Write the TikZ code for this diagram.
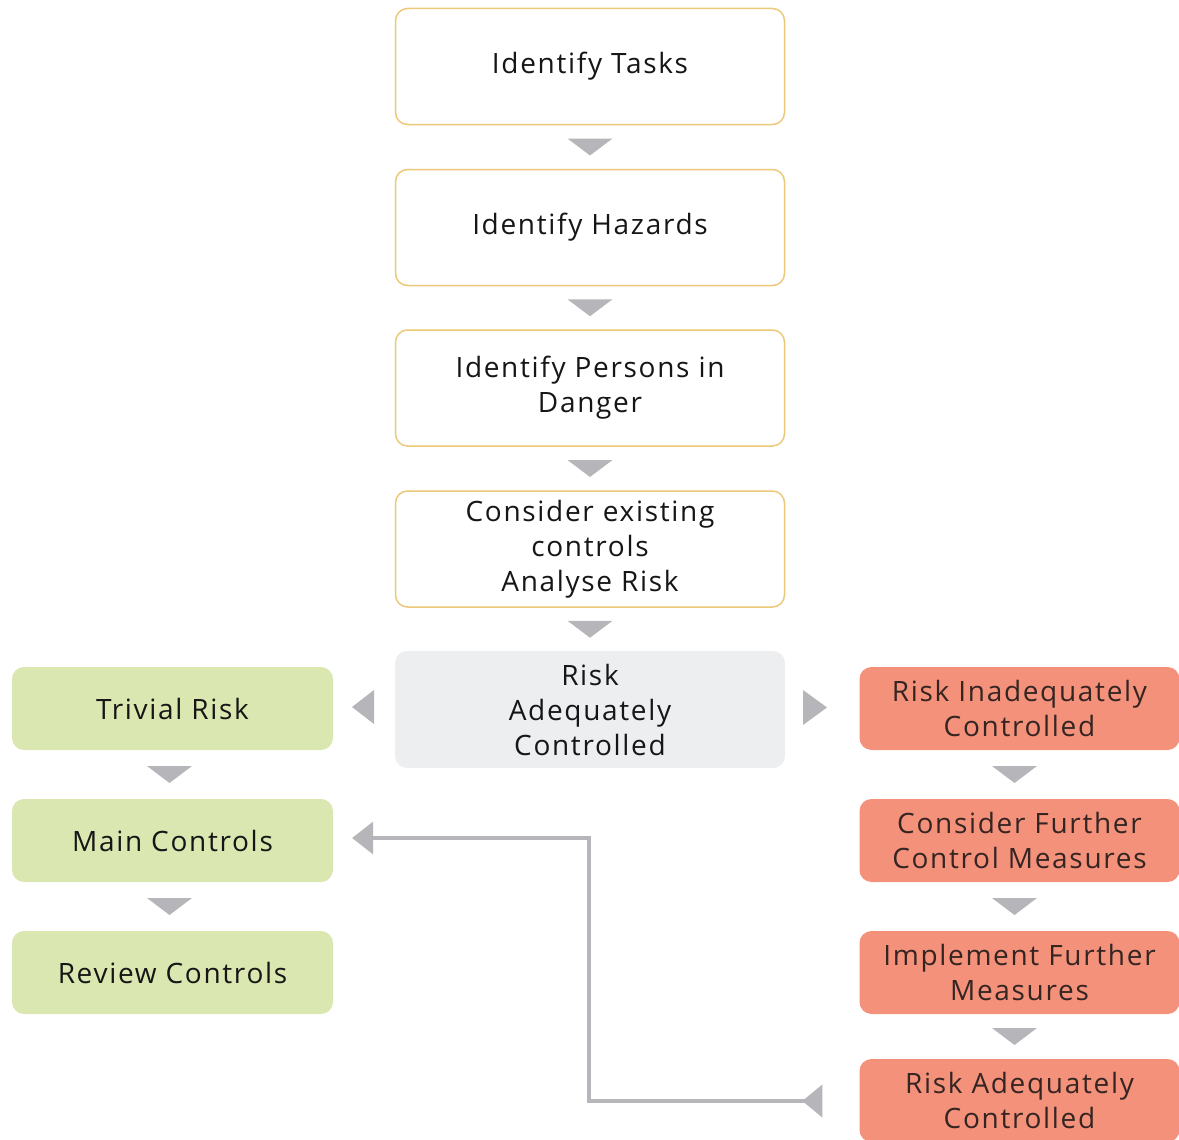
\documentclass[tikz,border=0pt]{standalone}
\usepackage{fontspec}
\setmainfont{Open Sans}[LetterSpace=6]
\usetikzlibrary{calc}
\definecolor{obord}{HTML}{EDC878}
\definecolor{greenf}{HTML}{DAE7B0}
\definecolor{salmonf}{HTML}{F4917B}
\definecolor{greyf}{HTML}{EDEEF0}
\definecolor{trif}{HTML}{B6B6BA}
\definecolor{txt}{HTML}{161616}
\definecolor{stxt}{HTML}{352522}
\newcommand\dtri[3][0]{\fill[trif] ($(#2.south)!0.5!(#3.north)+(#1,0)$) +(-22.5,-8.5) -- +(22.5,-8.5) -- +(0,8.5) -- cycle;}
\begin{document}
\begin{tikzpicture}[x=1pt,y=-1pt,
  box/.style={rounded corners=12pt, align=center, inner sep=0pt,
    font=\fontsize{28}{35}\selectfont, text=txt},
  wbox/.style={box, draw=obord, line width=1.5pt, fill=white,
    minimum width=389pt, minimum height=116pt},
  gbox/.style={box, fill=greyf, minimum width=390pt, minimum height=117pt},
  lbox/.style={box, fill=greenf, minimum width=321pt, minimum height=83pt},
  rbox/.style={box, fill=salmonf, text=stxt, minimum width=320pt, minimum height=83pt},
  conn/.style={draw=trif, line width=3.5pt}]
\useasboundingbox (0,0) rectangle (1179,1140);

\node[wbox] (tasks) at (590,66.5) {Identify Tasks};
\node[wbox] (hazards) at (590,227.5) {Identify Hazards};
\node[wbox] (persons) at (590,388) {Identify Persons in\\Danger};
\node[wbox] (consider) at (590,549) {Consider existing\\controls\\Analyse Risk};
\node[gbox] (adequate) at (590,709.5) {Risk\\Adequately\\Controlled};

\node[lbox] (trivial) at (172.5,708.5) {Trivial Risk};
\node[lbox] (main) at (172.5,840.5) {Main Controls};
\node[lbox] (review) at (172.5,972.5) {Review Controls};

\node[rbox] (inadequate) at (1019.5,708.5) {Risk Inadequately\\Controlled};
\node[rbox] (further) at (1019.5,840.5) {Consider Further\\Control Measures};
\node[rbox] (implement) at (1019.5,972.5) {Implement Further\\Measures};
\node[rbox] (final) at (1019.5,1100.5) {Risk Adequately\\Controlled};

\dtri{tasks}{hazards}
\dtri{hazards}{persons}
\dtri{persons}{consider}
\dtri{consider}{adequate}
\dtri[-3]{trivial}{main}
\dtri[-3]{main}{review}
\dtri[-5]{inadequate}{further}
\dtri[-5]{further}{implement}
\dtri[-5]{implement}{final}

% side triangles
\fill[trif] (374,690) -- (374,724) -- (352,707) -- cycle;
\fill[trif] (803,690) -- (803,725) -- (827,707.5) -- cycle;

% feedback connector
\coordinate (cstart) at ($(final.west)+(-37,0.5)$);
\coordinate (cend) at ($(main.east)+(40,-2.5)$);
\draw[conn] (cstart) -| (589,838) -- (cend);
\fill[trif] (cstart) ++(-20,0) -- ++(20,-16.5) -- ++(0,33) -- cycle;
\fill[trif] (cend) ++(-21,0) -- ++(21,-16.5) -- ++(0,33) -- cycle;
\end{tikzpicture}
\end{document}
